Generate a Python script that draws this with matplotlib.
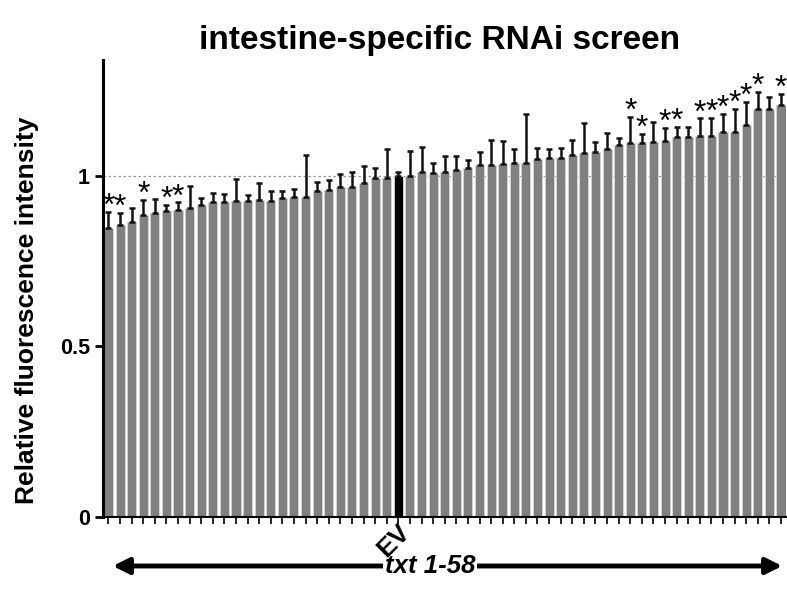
import numpy as np
import matplotlib.pyplot as plt

plt.rcParams['font.family'] = ['Liberation Sans', 'DejaVu Sans']

# relative fluorescence (sorted), EV control at index 25
values = [0.847, 0.856, 0.866, 0.886, 0.890, 0.898, 0.900, 0.906, 0.915, 0.924,
          0.923, 0.927, 0.927, 0.928, 0.927, 0.934, 0.939, 0.939, 0.957, 0.959,
          0.966, 0.967, 0.978, 0.993, 0.993, 1.000, 1.000, 1.010, 1.008, 1.010,
          1.017, 1.022, 1.031, 1.033, 1.035, 1.038, 1.038, 1.048, 1.051, 1.052,
          1.061, 1.067, 1.070, 1.078, 1.091, 1.096, 1.096, 1.099, 1.103, 1.115,
          1.114, 1.118, 1.118, 1.128, 1.130, 1.150, 1.196, 1.196, 1.209]
err_top = [0.895, 0.892, 0.905, 0.930, 0.932, 0.915, 0.922, 0.969, 0.934, 0.949,
           0.947, 0.991, 0.945, 0.980, 0.957, 0.957, 0.962, 1.060, 0.981, 0.988,
           1.005, 1.011, 1.029, 1.022, 1.078, 1.011, 1.073, 1.086, 1.037, 1.057,
           1.057, 1.047, 1.071, 1.106, 1.101, 1.080, 1.182, 1.083, 1.080, 1.082,
           1.106, 1.156, 1.099, 1.127, 1.110, 1.174, 1.123, 1.159, 1.140, 1.143,
           1.143, 1.169, 1.171, 1.181, 1.196, 1.218, 1.247, 1.230, 1.240]
signif = [0, 1, 3, 5, 6, 45, 46, 48, 49, 51, 52, 53, 54, 55, 56, 58]
ev_index = 25

values = np.array(values)
errors = np.array(err_top) - values
x = np.arange(len(values))
colors = ['#808080'] * len(values)
colors[ev_index] = 'black'

fig = plt.figure(figsize=(7.87, 6.05), dpi=100)
ax = fig.add_axes([0.131, 0.1455, 0.868, 0.7555])

ax.axhline(1.0, color='#999999', lw=0.9, ls=(0, (2, 2)), zorder=0)
ax.bar(x, values, width=0.78, color=colors, edgecolor='#d8d8d8', linewidth=0.6,
       yerr=[np.zeros_like(errors), errors], capsize=2.5,
       error_kw=dict(ecolor='#111111', elinewidth=1.8, capthick=1.8))

for i in signif:
    ax.text(x[i], err_top[i] - 0.03, '*', ha='center', va='bottom',
            fontsize=23, color='black', clip_on=False)

ax.set_xlim(-0.46, 58.45)
ax.set_ylim(0, 1.34)
ax.set_yticks([0, 0.5, 1])
ax.set_yticklabels(['0', '0.5', '1'], fontsize=15.5, fontweight='bold')
ax.set_xticks(x)
ax.set_xticklabels([])
ax.tick_params(axis='x', length=5, width=1.2, direction='out')
ax.tick_params(axis='y', length=6, width=2, direction='out')
ax.spines['top'].set_visible(False)
ax.spines['right'].set_visible(False)
ax.spines['left'].set_linewidth(2.2)
ax.spines['bottom'].set_linewidth(1.5)

fig.text(27 / 787, 1 - 310 / 605, 'Relative fluorescence intensity',
         rotation=90, ha='center', va='center', fontsize=19, fontweight='bold')
fig.text(440 / 787, 1 - 40 / 605, 'intestine-specific RNAi screen',
         ha='center', va='center', fontsize=24, fontweight='bold')

# double arrow below
ax.annotate('', xy=(110 / 787, 1 - 566 / 605), xytext=(785 / 787, 1 - 566 / 605),
            xycoords='figure fraction', textcoords='figure fraction',
            arrowprops=dict(arrowstyle='<|-|>', color='black', lw=3.5,
                            mutation_scale=24))
fig.text(430 / 787, 1 - 566 / 605, 'txt 1-58', ha='center', va='center',
         fontsize=18.5, fontweight='bold', style='italic', zorder=3,
         bbox=dict(facecolor='white', edgecolor='none', pad=1.5))

fig.text(406 / 787, 1 - 528 / 605, 'EV', rotation=45, ha='right', va='center',
         rotation_mode='anchor', fontsize=19, fontweight='bold', zorder=5)

fig.savefig('out.png', dpi=100)
